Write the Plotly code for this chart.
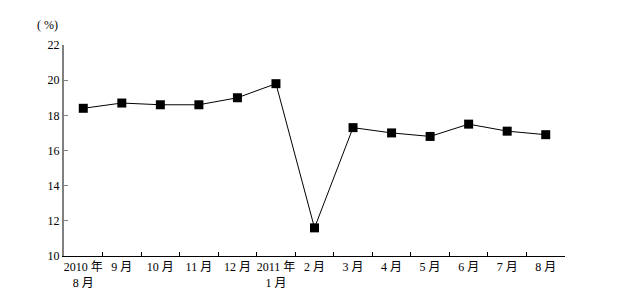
import plotly.graph_objects as go

categories = ["2010 年<br>8 月", "9 月", "10 月", "11 月", "12 月", "2011 年<br>1 月",
              "2 月", "3 月", "4 月", "5 月", "6 月", "7 月", "8 月"]
values = [18.4, 18.7, 18.6, 18.6, 19.0, 19.8, 11.6, 17.3, 17.0, 16.8, 17.5, 17.1, 16.9]
y_ticks = [10, 12, 14, 16, 18, 20, 22]

font_family = "Liberation Serif, Noto Sans CJK SC, serif"

fig = go.Figure()
fig.add_trace(go.Scatter(
    x=categories, y=values, mode="lines+markers",
    line=dict(color="black", width=1),
    marker=dict(symbol="square", size=9, color="black"),
    showlegend=False,
))

fig.update_layout(
    width=638, height=291,
    margin=dict(l=64, r=73, t=45, b=35),
    paper_bgcolor="white", plot_bgcolor="white",
    font=dict(family=font_family, size=12, color="black"),
    annotations=[dict(text="( %)", xref="paper", yref="paper", x=-0.032, y=1.0,
                      yshift=11, xanchor="center", yanchor="bottom", showarrow=False,
                      font=dict(size=12, family=font_family))],
)
fig.update_xaxes(
    type="category", tickson="boundaries", ticks="inside", ticklen=4,
    tickcolor="black", showline=True, linecolor="black", linewidth=1,
    showgrid=False, zeroline=False, range=[-0.5, 12.5], automargin=False,
    tickfont=dict(size=12), tickangle=0,
)
fig.update_yaxes(
    range=[10, 22], tickvals=y_ticks, ticks="inside", ticklen=4,
    tickcolor="#808080", showline=True, linecolor="#808080", linewidth=2,
    showgrid=False, zeroline=False, tickfont=dict(size=12), automargin=False,
)

fig.write_html("out.html")
